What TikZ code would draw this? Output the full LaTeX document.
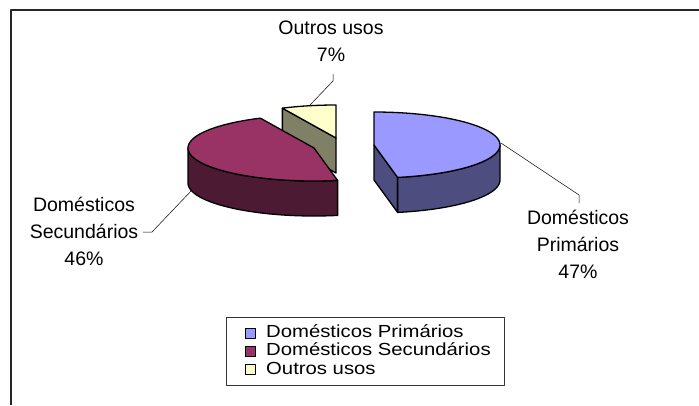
\documentclass[tikz,border=0pt]{standalone}
\usepackage{fontspec}
\setmainfont{Liberation Sans}
\newfontfamily\legfont[FakeStretch=1.16]{Liberation Sans}
\definecolor{bluetop}{RGB}{153,153,255}
\definecolor{blueside}{RGB}{77,77,128}
\definecolor{purptop}{RGB}{153,51,102}
\definecolor{purpside}{RGB}{77,26,51}
\definecolor{khakitop}{RGB}{255,255,204}
\definecolor{khakiside}{RGB}{128,128,102}
\begin{document}
\begin{tikzpicture}[x=1pt,y=-1pt,line join=round,
  slice/.style={draw=black,line width=1.3pt},
  lbl/.style={font=\fontsize{19.5}{27}\selectfont,align=center,inner sep=0pt},
  leg/.style={font=\legfont\fontsize{17.5}{18}\selectfont,anchor=base west,inner sep=0pt},
  legbox/.style={draw=black,line width=0.9pt,minimum width=10pt,minimum height=10pt,inner sep=0pt},
  leader/.style={draw=black,line width=0.5pt}]
\useasboundingbox (0,0) rectangle (699,405);
% outer frame (only top and left visible)
\draw[line width=1.8pt,black!85] (11,405) -- (11,10) -- (699,10);

% ---- Outros usos slice (behind) ----
\path[slice,fill=khakiside] (336,138) -- ({336+126*cos(115.2)},{138-33*sin(115.2)})
  -- ({336+126*cos(115.2)},{173-33*sin(115.2)}) -- (336,173) -- cycle;
\path[slice,fill=khakitop] (336,138)
  -- plot[domain=90:115.2,samples=20] ({336+126*cos(\x)},{138-33*sin(\x)}) -- cycle;

% ---- Domesticos Secundarios slice ----
\path[slice,fill=purpside]
  plot[domain=180:280.8,samples=60] ({314+126*cos(\x)},{148-33*sin(\x)})
  -- plot[domain=280.8:180,samples=60] ({314+126*cos(\x)},{183-33*sin(\x)}) -- cycle;
\path[slice,fill=purptop] (314,148)
  -- plot[domain=115.2:280.8,samples=90] ({314+126*cos(\x)},{148-33*sin(\x)}) -- cycle;

% ---- Domesticos Primarios slice ----
\path[slice,fill=blueside] (374,145) -- ({374+126*cos(-79.2)},{145-33*sin(-79.2)})
  -- ({374+126*cos(-79.2)},{180-33*sin(-79.2)}) -- (374,180) -- cycle;
\path[slice,fill=blueside]
  plot[domain=-79.2:0,samples=50] ({374+126*cos(\x)},{145-33*sin(\x)})
  -- plot[domain=0:-79.2,samples=50] ({374+126*cos(\x)},{180-33*sin(\x)}) -- cycle;
\path[slice,fill=bluetop] (374,145)
  -- plot[domain=90:-79.2,samples=90] ({374+126*cos(\x)},{145-33*sin(\x)}) -- cycle;

% ---- labels ----
\node[lbl] (lo) at (331,41) {Outros usos\\7\%};
\node[lbl] (ls) at (84,231) {Domésticos\\Secundários\\46\%};
\node[lbl] (lp) at (578,244) {Domésticos\\Primários\\47\%};

% ---- leader lines ----
\coordinate (eo) at (310,105);
\coordinate (ko) at (333,81);
\coordinate (to) at (333,74);
\draw[leader] (eo) -- (ko) -- (to);
\coordinate (es) at (192,190);
\coordinate (ks) at (152,232);
\coordinate (ts) at (143,232);
\draw[leader] (es) -- (ks) -- (ts);
\coordinate (ep) at (501,143);
\coordinate (kp) at (579,195);
\coordinate (tp) at (579,203);
\draw[leader] (ep) -- (kp) -- (tp);

% ---- legend ----
\draw[line width=0.9pt,black!80] (226,317) rectangle (504,385);
\node[legbox,fill=bluetop] (k1) at (250.5,333) {};
\node[legbox,fill=purptop] (k2) at (250.5,351.5) {};
\node[legbox,fill=khakitop] (k3) at (250.5,369.5) {};
\node[leg] (t1) at (266,337) {Domésticos Primários};
\node[leg] (t2) at (266,355.5) {Domésticos Secundários};
\node[leg] (t3) at (266,374) {Outros usos};
\end{tikzpicture}
\end{document}
